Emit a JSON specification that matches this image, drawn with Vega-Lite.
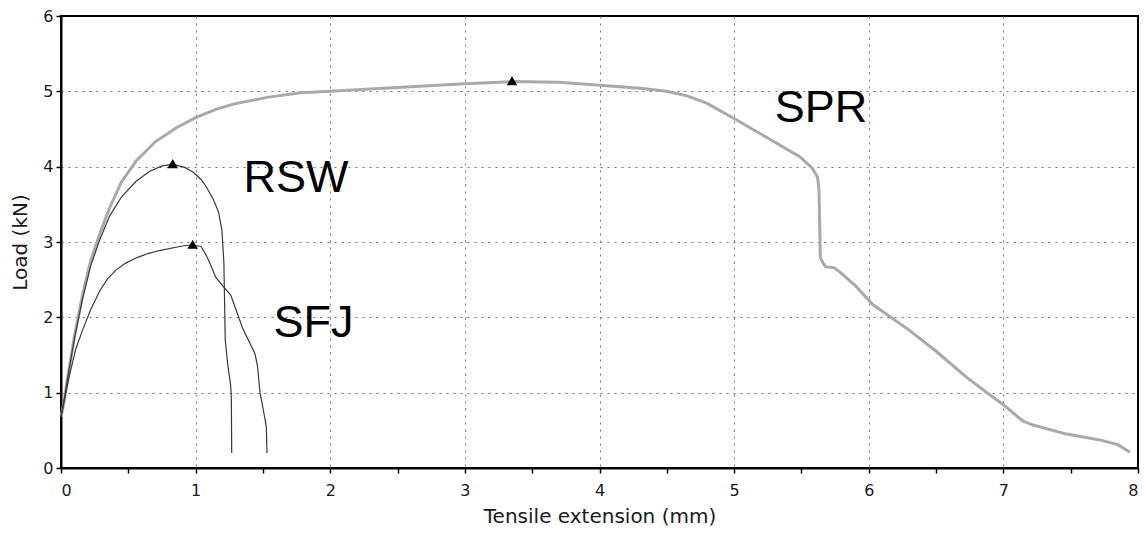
{
  "$schema": "https://vega.github.io/schema/vega-lite/v6.json",
  "width": 1077,
  "height": 452,
  "autosize": "none",
  "padding": {"left": 61, "top": 16, "right": 7, "bottom": 66},
  "background": "white",
  "config": {
    "view": {"stroke": "black", "strokeWidth": 2},
    "axis": {
      "domainColor": "black",
      "domainWidth": 2,
      "tickColor": "black",
      "tickWidth": 1.5,
      "tickSize": 5,
      "gridColor": "#777777",
      "gridDash": [2, 5],
      "gridWidth": 1,
      "labelFont": "DejaVu Sans",
      "labelFontSize": 16,
      "labelColor": "#1a1a1a",
      "titleFont": "DejaVu Sans",
      "titleFontSize": 20,
      "titleFontWeight": "normal",
      "titleColor": "#1a1a1a"
    }
  },
  "datasets": {
    "curves": [
      {"joint": "SPR", "ext": 0.0, "load": 0.68},
      {"joint": "SPR", "ext": 0.02, "load": 0.85},
      {"joint": "SPR", "ext": 0.05, "load": 1.2},
      {"joint": "SPR", "ext": 0.1, "load": 1.75},
      {"joint": "SPR", "ext": 0.16, "load": 2.3},
      {"joint": "SPR", "ext": 0.22, "load": 2.75},
      {"joint": "SPR", "ext": 0.29, "load": 3.12},
      {"joint": "SPR", "ext": 0.36, "load": 3.45},
      {"joint": "SPR", "ext": 0.45, "load": 3.8},
      {"joint": "SPR", "ext": 0.56, "load": 4.08},
      {"joint": "SPR", "ext": 0.7, "load": 4.33},
      {"joint": "SPR", "ext": 0.86, "load": 4.52},
      {"joint": "SPR", "ext": 1.0, "load": 4.65},
      {"joint": "SPR", "ext": 1.15, "load": 4.76},
      {"joint": "SPR", "ext": 1.28, "load": 4.83},
      {"joint": "SPR", "ext": 1.53, "load": 4.92},
      {"joint": "SPR", "ext": 1.78, "load": 4.98},
      {"joint": "SPR", "ext": 2.0, "load": 5.0},
      {"joint": "SPR", "ext": 2.5, "load": 5.05},
      {"joint": "SPR", "ext": 3.0, "load": 5.1},
      {"joint": "SPR", "ext": 3.35, "load": 5.13},
      {"joint": "SPR", "ext": 3.7, "load": 5.12},
      {"joint": "SPR", "ext": 4.0, "load": 5.08},
      {"joint": "SPR", "ext": 4.3, "load": 5.04},
      {"joint": "SPR", "ext": 4.5, "load": 5.0},
      {"joint": "SPR", "ext": 4.65, "load": 4.94},
      {"joint": "SPR", "ext": 4.8, "load": 4.84},
      {"joint": "SPR", "ext": 5.0, "load": 4.64},
      {"joint": "SPR", "ext": 5.24, "load": 4.39},
      {"joint": "SPR", "ext": 5.49, "load": 4.13},
      {"joint": "SPR", "ext": 5.58, "load": 3.98},
      {"joint": "SPR", "ext": 5.62, "load": 3.86},
      {"joint": "SPR", "ext": 5.63, "load": 3.7},
      {"joint": "SPR", "ext": 5.635, "load": 3.3},
      {"joint": "SPR", "ext": 5.64, "load": 2.8},
      {"joint": "SPR", "ext": 5.66, "load": 2.72},
      {"joint": "SPR", "ext": 5.68, "load": 2.67},
      {"joint": "SPR", "ext": 5.74, "load": 2.66},
      {"joint": "SPR", "ext": 5.78, "load": 2.61},
      {"joint": "SPR", "ext": 5.9, "load": 2.42},
      {"joint": "SPR", "ext": 6.03, "load": 2.17},
      {"joint": "SPR", "ext": 6.3, "load": 1.83},
      {"joint": "SPR", "ext": 6.5, "load": 1.55},
      {"joint": "SPR", "ext": 6.73, "load": 1.2},
      {"joint": "SPR", "ext": 6.9, "load": 0.97},
      {"joint": "SPR", "ext": 7.0, "load": 0.84},
      {"joint": "SPR", "ext": 7.12, "load": 0.66},
      {"joint": "SPR", "ext": 7.15, "load": 0.62},
      {"joint": "SPR", "ext": 7.22, "load": 0.57},
      {"joint": "SPR", "ext": 7.47, "load": 0.45},
      {"joint": "SPR", "ext": 7.72, "load": 0.37},
      {"joint": "SPR", "ext": 7.85, "load": 0.31},
      {"joint": "SPR", "ext": 7.94, "load": 0.21},
      {"joint": "RSW", "ext": 0.0, "load": 0.68},
      {"joint": "RSW", "ext": 0.03, "load": 0.97},
      {"joint": "RSW", "ext": 0.05, "load": 1.2},
      {"joint": "RSW", "ext": 0.1, "load": 1.72},
      {"joint": "RSW", "ext": 0.16, "load": 2.24},
      {"joint": "RSW", "ext": 0.22, "load": 2.68},
      {"joint": "RSW", "ext": 0.29, "load": 3.04},
      {"joint": "RSW", "ext": 0.36, "load": 3.34},
      {"joint": "RSW", "ext": 0.45, "load": 3.6},
      {"joint": "RSW", "ext": 0.56, "load": 3.81},
      {"joint": "RSW", "ext": 0.66, "load": 3.94},
      {"joint": "RSW", "ext": 0.75, "load": 4.01},
      {"joint": "RSW", "ext": 0.83, "load": 4.03},
      {"joint": "RSW", "ext": 0.92, "load": 3.99},
      {"joint": "RSW", "ext": 0.98, "load": 3.93},
      {"joint": "RSW", "ext": 1.04, "load": 3.83},
      {"joint": "RSW", "ext": 1.08, "load": 3.73},
      {"joint": "RSW", "ext": 1.13, "load": 3.57},
      {"joint": "RSW", "ext": 1.17, "load": 3.4},
      {"joint": "RSW", "ext": 1.195, "load": 3.16},
      {"joint": "RSW", "ext": 1.21, "load": 2.72},
      {"joint": "RSW", "ext": 1.22, "load": 1.7},
      {"joint": "RSW", "ext": 1.24, "load": 1.35},
      {"joint": "RSW", "ext": 1.26, "load": 1.1},
      {"joint": "RSW", "ext": 1.265, "load": 0.95},
      {"joint": "RSW", "ext": 1.268, "load": 0.2},
      {"joint": "SFJ", "ext": 0.0, "load": 0.68},
      {"joint": "SFJ", "ext": 0.03, "load": 0.95},
      {"joint": "SFJ", "ext": 0.067, "load": 1.26},
      {"joint": "SFJ", "ext": 0.11, "load": 1.58},
      {"joint": "SFJ", "ext": 0.16, "load": 1.83},
      {"joint": "SFJ", "ext": 0.22, "load": 2.1},
      {"joint": "SFJ", "ext": 0.29, "load": 2.36},
      {"joint": "SFJ", "ext": 0.35, "load": 2.52},
      {"joint": "SFJ", "ext": 0.41, "load": 2.63},
      {"joint": "SFJ", "ext": 0.48, "load": 2.72},
      {"joint": "SFJ", "ext": 0.56, "load": 2.79},
      {"joint": "SFJ", "ext": 0.65, "load": 2.85},
      {"joint": "SFJ", "ext": 0.74, "load": 2.89},
      {"joint": "SFJ", "ext": 0.91, "load": 2.95},
      {"joint": "SFJ", "ext": 0.98, "load": 2.96},
      {"joint": "SFJ", "ext": 1.04, "load": 2.94},
      {"joint": "SFJ", "ext": 1.08, "load": 2.82},
      {"joint": "SFJ", "ext": 1.11, "load": 2.7},
      {"joint": "SFJ", "ext": 1.15, "load": 2.53},
      {"joint": "SFJ", "ext": 1.2, "load": 2.42},
      {"joint": "SFJ", "ext": 1.26, "load": 2.3},
      {"joint": "SFJ", "ext": 1.3, "load": 2.1},
      {"joint": "SFJ", "ext": 1.35, "load": 1.85},
      {"joint": "SFJ", "ext": 1.44, "load": 1.52},
      {"joint": "SFJ", "ext": 1.46, "load": 1.35},
      {"joint": "SFJ", "ext": 1.478, "load": 1.0},
      {"joint": "SFJ", "ext": 1.503, "load": 0.77},
      {"joint": "SFJ", "ext": 1.525, "load": 0.55},
      {"joint": "SFJ", "ext": 1.53, "load": 0.2}
    ],
    "peaks": [
      {"joint": "RSW", "ext": 0.83, "load": 4.04},
      {"joint": "SFJ", "ext": 0.978, "load": 2.97},
      {"joint": "SPR", "ext": 3.35, "load": 5.14}
    ],
    "labels": [
      {"joint": "RSW", "ext": 1.746, "load": 3.66},
      {"joint": "SFJ", "ext": 1.876, "load": 1.74},
      {"joint": "SPR", "ext": 5.646, "load": 4.59}
    ]
  },
  "layer": [
    {
      "data": {"name": "curves"},
      "mark": {"type": "line", "interpolate": "linear"},
      "encoding": {
        "x": {
          "field": "ext", "type": "quantitative",
          "scale": {"domain": [0, 8], "nice": false, "zero": false},
          "axis": {
            "title": "Tensile extension (mm)",
            "values": [0, 0.5, 1, 1.5, 2, 2.5, 3, 3.5, 4, 4.5, 5, 5.5, 6, 6.5, 7, 7.5, 8],
            "format": "~g",
            "labelExpr": "datum.value % 1 === 0 ? datum.label : ''",
            "labelPadding": 9,
            "titlePadding": 8,
            "gridOpacity": {"condition": {"test": "datum.value % 1 !== 0 || datum.value === 0 || datum.value === 8", "value": 0}, "value": 1}
          }
        },
        "y": {
          "field": "load", "type": "quantitative",
          "scale": {"domain": [0, 6], "nice": false, "zero": false},
          "axis": {
            "title": "Load (kN)",
            "values": [0, 0.5, 1, 1.5, 2, 2.5, 3, 3.5, 4, 4.5, 5, 5.5, 6],
            "format": "~g",
            "labelExpr": "datum.value % 1 === 0 ? datum.label : ''",
            "labelPadding": 3,
            "titlePadding": 12,
            "gridOpacity": {"condition": {"test": "datum.value % 1 !== 0 || datum.value === 0 || datum.value === 6", "value": 0}, "value": 1}
          }
        },
        "detail": {"field": "joint"},
        "color": {
          "condition": {"test": "datum.joint === 'SPR'", "value": "#a9a9a9"},
          "value": "#3a3a3a"
        },
        "strokeWidth": {
          "condition": {"test": "datum.joint === 'SPR'", "value": 3},
          "value": 1.2
        }
      }
    },
    {
      "data": {"name": "peaks"},
      "mark": {"type": "point", "shape": "triangle-up", "filled": true, "color": "black", "size": 110, "opacity": 1},
      "encoding": {
        "x": {"field": "ext", "type": "quantitative"},
        "y": {"field": "load", "type": "quantitative"}
      }
    },
    {
      "data": {"name": "labels"},
      "mark": {"type": "text", "font": "Liberation Sans", "fontSize": 45, "align": "center", "baseline": "alphabetic", "color": "black"},
      "encoding": {
        "x": {"field": "ext", "type": "quantitative"},
        "y": {"field": "load", "type": "quantitative"},
        "text": {"field": "joint"}
      }
    }
  ]
}
